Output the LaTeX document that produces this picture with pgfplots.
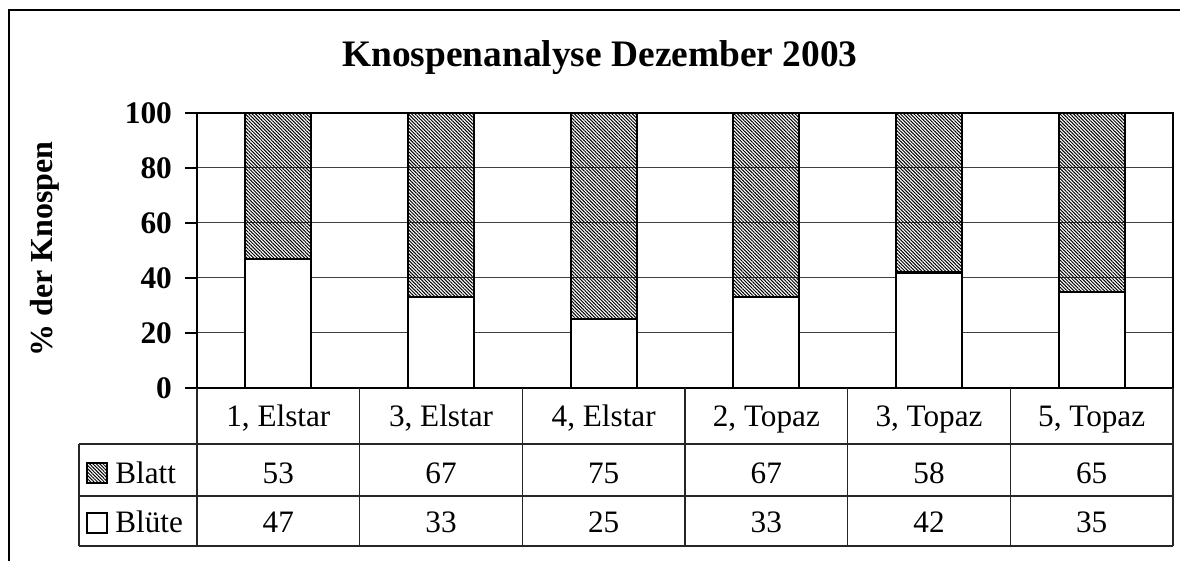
\documentclass[border=0pt]{standalone}
\usepackage{fontspec}
\setmainfont{Liberation Serif}
\usepackage{pgfplots}
\pgfplotsset{compat=1.18}
\usetikzlibrary{patterns.meta}
\begin{document}
\begin{tikzpicture}[x=1pt,y=1pt]
\path[use as bounding box] (0,0) rectangle (590,280.5);
\draw[line width=0.7pt] (4.5,-10) -- (4.5,275.5) -- (600,275.5);
\node[font=\fontsize{18.7}{22}\selectfont\bfseries] at (300,251.5) {Knospenanalyse Dezember 2003};
\node[rotate=90,font=\fontsize{16}{19}\selectfont\bfseries] at (22.5,156) {\% der Knospen};
\begin{axis}[
  at={(98.5pt,86.5pt)}, anchor=south west,
  scale only axis, width=488pt, height=137.5pt,
  xmin=-0.5, xmax=5.5, ymin=0, ymax=100,
  ytick={0,20,...,100}, xtick=\empty, ytick pos=left,
  ymajorgrids, grid style={black!75, line width=0.5pt},
  axis line style={black, line width=0.6pt},
  tick align=outside, major tick length=6pt,
  ytick style={black, line width=0.6pt},
  yticklabel style={font=\fontsize{15.7}{18}\selectfont\bfseries, xshift=-3pt},
  /pgf/number format/assume math mode=true,
  ybar stacked, bar width=33pt,
  clip=false,
]
\addplot[fill=white, draw=black, line width=1.1pt] coordinates {(0,47) (1,33) (2,25) (3,33) (4,42) (5,35)};
\addplot[pattern={Lines[angle=-45,distance=1.2pt,line width=0.5pt]}, draw=black, line width=1.1pt] coordinates {(0,53) (1,67) (2,75) (3,67) (4,58) (5,65)};
\end{axis}
% data table
\begin{scope}[black!85, line width=0.6pt]
\foreach \k in {0,...,6} \draw ({98.5+\k*81.333},86.5) -- ({98.5+\k*81.333},7.5);
\draw (39.5,58.5) -- (586.5,58.5);
\draw (39.5,32.5) -- (586.5,32.5);
\draw (39.5,7.5) -- (586.5,7.5);
\draw (39.5,58.5) -- (39.5,7.5);
\end{scope}
\foreach \i/\c/\a/\b in {0/{1, Elstar}/53/47, 1/{3, Elstar}/67/33, 2/{4, Elstar}/75/25, 3/{2, Topaz}/67/33, 4/{3, Topaz}/58/42, 5/{5, Topaz}/65/35} {
  \node[anchor=base, inner sep=0, font=\fontsize{15.6}{18}\selectfont] at ({98.5+(\i+0.5)*81.333},67) {\c};
  \node[anchor=base, inner sep=0, font=\fontsize{15.6}{18}\selectfont] at ({98.5+(\i+0.5)*81.333},38.5) {\a};
  \node[anchor=base, inner sep=0, font=\fontsize{15.6}{18}\selectfont] at ({98.5+(\i+0.5)*81.333},14) {\b};
}
\draw[black, line width=0.8pt, pattern={Lines[angle=-45,distance=1.2pt,line width=0.5pt]}] (43.5,39) rectangle (53.5,49);
\draw[black, line width=0.8pt, fill=white] (43.5,14) rectangle (53.5,24);
\node[anchor=base west, inner sep=0, font=\fontsize{15.6}{18}\selectfont] at (57.5,38.5) {Blatt};
\node[anchor=base west, inner sep=0, font=\fontsize{15.6}{18}\selectfont] at (57.5,14) {Blüte};
\end{tikzpicture}
\end{document}
